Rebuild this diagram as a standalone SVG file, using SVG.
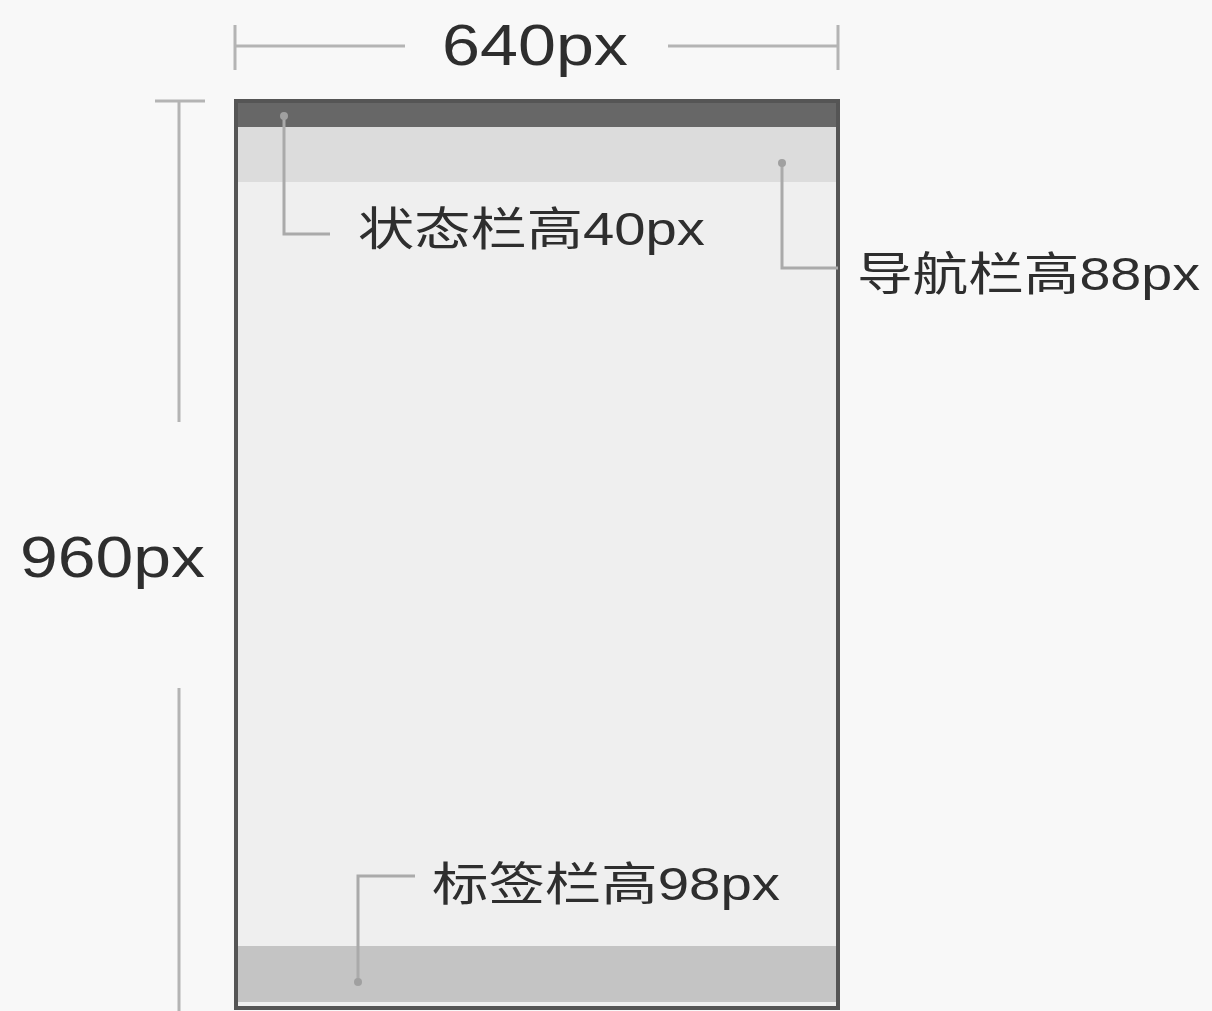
<svg xmlns="http://www.w3.org/2000/svg" width="1212" height="1011" viewBox="0 0 1212 1011">
<style>
.dim{stroke:#b4b4b4;stroke-width:3;fill:none}
.call{stroke:#aaaaaa;stroke-width:3;fill:none}
.dot{fill:#a0a0a0}
.t{font-family:"Liberation Sans","Noto Sans CJK SC",sans-serif;fill:#2e2e2e}
</style>
<rect x="0" y="0" width="1212" height="1011" fill="#f8f8f8"/>
<g id="phone">
<rect x="236" y="101" width="602" height="907" fill="#efefef" stroke="#555555" stroke-width="4"/>
<rect x="238" y="103" width="598" height="24" fill="#676767"/>
<rect x="238" y="127" width="598" height="55" fill="#dcdcdc"/>
<rect x="238" y="946" width="598" height="56" fill="#c4c4c4"/>
</g>
<g id="dim-width">
<path class="dim" d="M235 25V70M838 25V70M236 46H405M668 46H837"/>
<text class="t" x="442" y="65" font-size="57" textLength="186" lengthAdjust="spacingAndGlyphs">640px</text>
</g>
<g id="dim-height">
<path class="dim" d="M155 101H205M179 101V422M179 688V1011"/>
<text class="t" x="20" y="577" font-size="57" textLength="185" lengthAdjust="spacingAndGlyphs">960px</text>
</g>
<g id="connectors">
<path class="call" d="M284 116V234H330"/>
<path class="call" d="M782 163V268H838"/>
<path class="call" d="M358 982V876H415"/>
<circle class="dot" cx="284" cy="116" r="4"/>
<circle class="dot" cx="782" cy="163" r="4"/>
<circle class="dot" cx="358" cy="982" r="4"/>
</g>
<g id="label-status">
<text class="t" x="358" y="245" font-size="46" textLength="347" lengthAdjust="spacingAndGlyphs">状态栏高40px</text>
</g>
<g id="label-nav">
<text class="t" x="857" y="290" font-size="46" textLength="343" lengthAdjust="spacingAndGlyphs">导航栏高88px</text>
</g>
<g id="label-tab">
<text class="t" x="432" y="900" font-size="46" textLength="348" lengthAdjust="spacingAndGlyphs">标签栏高98px</text>
</g>
</svg>
